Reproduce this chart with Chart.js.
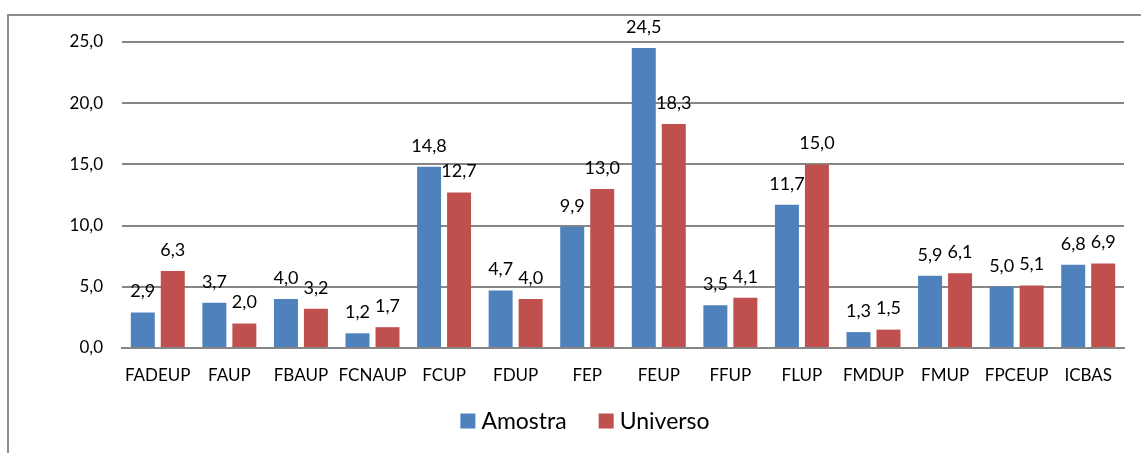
<!DOCTYPE html>
<html>
<head>
<meta charset="utf-8">
<script src="https://cdn.jsdelivr.net/npm/chart.js@4"></script>
<style>
  html, body { margin: 0; padding: 0; background: #fff; }
  #wrap { width: 1141px; height: 453px; position: relative; }
</style>
</head>
<body>
<div id="wrap"><canvas id="barChart" width="1141" height="453"></canvas></div>
<script>
const categories = ['FADEUP', 'FAUP', 'FBAUP', 'FCNAUP', 'FCUP', 'FDUP', 'FEP',
  'FEUP', 'FFUP', 'FLUP', 'FMDUP', 'FMUP', 'FPCEUP', 'ICBAS'];
const amostra = [2.9, 3.7, 4.0, 1.2, 14.8, 4.7, 9.9, 24.5, 3.5, 11.7, 1.3, 5.9, 5.0, 6.8];
const universo = [6.3, 2.0, 3.2, 1.7, 12.7, 4.0, 13.0, 18.3, 4.1, 15.0, 1.5, 6.1, 5.1, 6.9];
const yTicks = [0, 5, 10, 15, 20, 25];

const FONT = 'Lato, "Open Sans", sans-serif';
const fmt = v => v.toFixed(1).replace('.', ',');

// frame around the chart (only top and left edges are visible)
const framePlugin = {
  id: 'frame',
  beforeDraw(chart) {
    const ctx = chart.ctx;
    ctx.save();
    ctx.strokeStyle = '#8c8c8c';
    ctx.lineWidth = 2;
    ctx.strokeRect(8, 15, 1200, 500);
    ctx.restore();
  }
};

// value labels above each bar
const valueLabels = {
  id: 'valueLabels',
  afterDatasetsDraw(chart) {
    const ctx = chart.ctx;
    ctx.save();
    ctx.font = '18px ' + FONT;
    ctx.fillStyle = '#000';
    ctx.textAlign = 'center';
    ctx.textBaseline = 'bottom';
    chart.data.datasets.forEach((ds, i) => {
      chart.getDatasetMeta(i).data.forEach((bar, j) => {
        ctx.fillText(fmt(ds.data[j]), bar.x, bar.y - 12);
      });
    });
    ctx.restore();
  }
};

// legend at the bottom, Excel style (small gap between box and text)
const bottomLegend = {
  id: 'bottomLegend',
  afterDraw(chart) {
    const ctx = chart.ctx;
    const box = 15, gap = 6, between = 32, cy = 421;
    ctx.save();
    ctx.font = '23px ' + FONT;
    ctx.textBaseline = 'middle';
    const items = chart.data.datasets.map(ds => ({
      text: ds.label, color: ds.backgroundColor, w: ctx.measureText(ds.label).width
    }));
    const total = items.reduce((s, it) => s + box + gap + it.w, 0) + between * (items.length - 1);
    let x = 585 - total / 2;
    items.forEach(it => {
      ctx.fillStyle = it.color;
      ctx.fillRect(x, cy - box / 2, box, box);
      x += box + gap;
      ctx.fillStyle = '#000';
      ctx.fillText(it.text, x, cy + 1);
      x += it.w + between;
    });
    ctx.restore();
  }
};

const barCtx = document.getElementById('barChart').getContext('2d');
const barChart = new Chart(barCtx, {
  type: 'bar',
  data: {
    labels: categories,
    datasets: [{
      label: 'Amostra',
      data: amostra,
      backgroundColor: '#4F81BD',
      borderWidth: 0
    }, {
      label: 'Universo',
      data: universo,
      backgroundColor: '#C0504D',
      borderWidth: 0
    }]
  },
  options: {
    responsive: false,
    animation: false,
    devicePixelRatio: 1,
    categoryPercentage: 0.838,
    barPercentage: 0.8,
    layout: { padding: { top: 42, right: 17, left: 0, bottom: 65 } },
    plugins: {
      tooltip: { enabled: false },
      legend: { display: false }
    },
    scales: {
      x: {
        grid: { display: false, drawTicks: false },
        border: { color: '#868686', width: 2 },
        ticks: {
          font: { family: FONT, size: 17 },
          color: '#000',
          padding: 17,
          maxRotation: 0,
          autoSkip: false
        },
        afterFit(scale) { scale.height = 40; }
      },
      y: {
        min: 0,
        max: 25,
        afterBuildTicks(scale) { scale.ticks = yTicks.map(v => ({ value: v })); },
        grid: { color: '#868686', lineWidth: 2, drawTicks: false },
        border: { display: false },
        ticks: {
          font: { family: FONT, size: 17 },
          color: '#000',
          padding: 19,
          callback: v => fmt(v)
        },
        afterFit(scale) { scale.width = 122; }
      }
    }
  },
  plugins: [framePlugin, valueLabels, bottomLegend]
});
</script>
</body>
</html>
